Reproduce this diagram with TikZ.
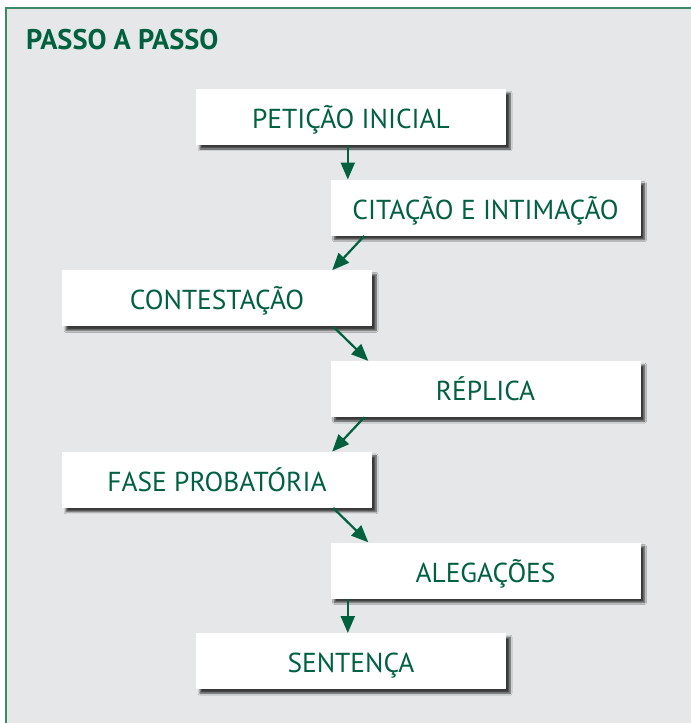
\documentclass[tikz,border=0pt]{standalone}
\usepackage{fontspec}
\setmainfont{PT Sans}
\usepackage{xcolor}
\usetikzlibrary{arrows.meta}
\usetikzlibrary{positioning}
\usetikzlibrary{shadows.blur}
\definecolor{darkgreen}{HTML}{00613E}
\definecolor{framegreen}{HTML}{3A8A68}
\definecolor{panelgray}{HTML}{E6E7E8}

\begin{document}
\begin{tikzpicture}[x=1bp,y=-1bp,
	stepbox/.style={fill=white, minimum width=310bp, minimum height=56bp, inner sep=0pt,
		text=darkgreen, font=\fontsize{27.5}{27.5}\selectfont, text depth=0pt, text height=23bp,
		blur shadow={shadow xshift=4bp, shadow yshift=-4bp, shadow blur steps=6, shadow opacity=75}},
	flowarrow/.style={darkgreen, line width=2.2bp, -{Triangle[length=17bp, width=14bp]}}]
	\useasboundingbox (0,0) rectangle (691,723);
	%panel
	\fill[panelgray] (6,8) rectangle (691,723);
	\draw[framegreen, line width=1.5bp] (6,723) -- (6,8) -- (691,8);
	\node[anchor=base west, inner sep=0pt, text=darkgreen, font=\bfseries\fontsize{28.5}{28.5}\selectfont] (titulo) at (26,49.5) {PASSO A PASSO};
	
	% steps
	\node[stepbox] (peticao) at (351,117) {PETIÇÃO INICIAL};
	\node[stepbox] (citacao) at (485.5,207.7) {CITAÇÃO E INTIMAÇÃO};
	\node[stepbox] (contestacao) at (217,298.4) {CONTESTAÇÃO};
	\node[stepbox] (replica) at (485.5,389.1) {RÉPLICA};
	\node[stepbox] (probatoria) at (217,479.8) {FASE PROBATÓRIA};
	\node[stepbox] (alegacoes) at (485.5,570.5) {ALEGAÇÕES};
	\node[stepbox] (sentenca) at (351,661.2) {SENTENÇA};
	
	% add arrows
	\draw[flowarrow] ([xshift=17.5bp]citacao.north west |- peticao.south) -- ([xshift=17.5bp]citacao.north west);
	\draw[flowarrow] ([xshift=34bp]citacao.south west) -- ([xshift=-40bp]contestacao.north east);
	\draw[flowarrow] ([xshift=-39bp]contestacao.south east) -- ([xshift=38bp]replica.north west);
	\draw[flowarrow] ([xshift=34bp]replica.south west) -- ([xshift=-40bp]probatoria.north east);
	\draw[flowarrow] ([xshift=-39bp]probatoria.south east) -- ([xshift=38bp]alegacoes.north west);
	\draw[flowarrow] ([xshift=17.5bp]alegacoes.south west) -- ([xshift=17.5bp]alegacoes.south west |- sentenca.north);
\end{tikzpicture}
\end{document}
